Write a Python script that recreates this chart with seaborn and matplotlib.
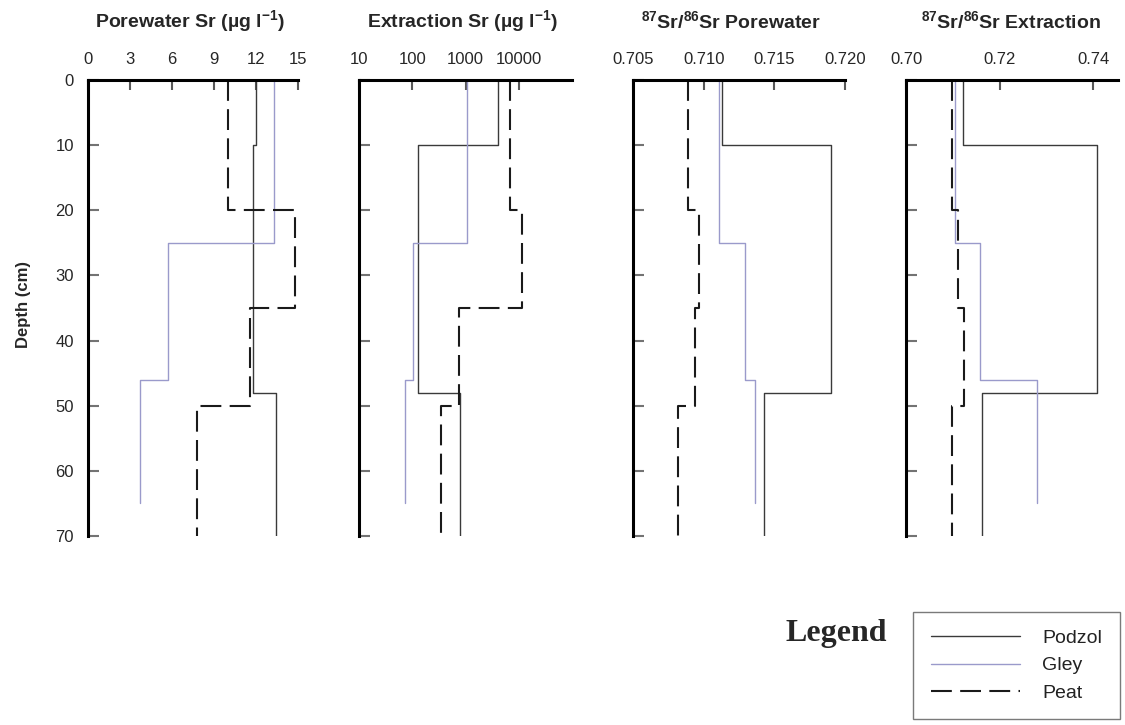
import matplotlib
matplotlib.use("Agg")
import matplotlib.pyplot as plt
from matplotlib.lines import Line2D
import seaborn as sns
import pandas as pd

# ---------------- data ----------------
soils = ["Podzol", "Gley", "Peat"]
podzol_depths = [0, 10, 48, 70]
gley_depths = [0, 25, 46, 65]
peat_depths = [0, 20, 35, 50, 70]

# Porewater Sr (ug/l)
pw_sr_podzol = [12.0, 11.8, 13.4]
pw_sr_gley = [13.3, 5.7, 3.7]
pw_sr_peat = [10.0, 14.8, 11.6, 7.8]

# Extraction Sr (ug/l)
ex_sr_podzol = [4070, 128, 790]
ex_sr_gley = [1070, 103, 73]
ex_sr_peat = [6760, 11500, 760, 347]

# 87Sr/86Sr porewater
pw_ratio_podzol = [0.7113, 0.7190, 0.7143]
pw_ratio_gley = [0.7111, 0.7129, 0.7136]
pw_ratio_peat = [0.7089, 0.7097, 0.7094, 0.7082]

# 87Sr/86Sr extraction
ex_ratio_podzol = [0.7122, 0.7408, 0.7163]
ex_ratio_gley = [0.7105, 0.7158, 0.7280]
ex_ratio_peat = [0.7098, 0.7111, 0.7124, 0.7098]

titles = [r"Porewater Sr (µg l$^{-1}$)",
          r"Extraction Sr (µg l$^{-1}$)",
          r"$^{87}$Sr/$^{86}$Sr Porewater",
          r"$^{87}$Sr/$^{86}$Sr Extraction"]
xticks_list = [[0, 3, 6, 9, 12, 15],
               [10, 100, 1000, 10000],
               [0.705, 0.710, 0.715, 0.720],
               [0.70, 0.72, 0.74]]
xticklabels_list = [["0", "3", "6", "9", "12", "15"],
                    ["10", "100", "1000", "10000"],
                    ["0.705", "0.710", "0.715", "0.720"],
                    ["0.70", "0.72", "0.74"]]
xlims = [(0, 15), (10, 100000), (0.705, 0.720), (0.70, 0.7453)]
yticks = [0, 10, 20, 30, 40, 50, 60, 70]

panels = [
    (pw_sr_podzol, pw_sr_gley, pw_sr_peat),
    (ex_sr_podzol, ex_sr_gley, ex_sr_peat),
    (pw_ratio_podzol, pw_ratio_gley, pw_ratio_peat),
    (ex_ratio_podzol, ex_ratio_gley, ex_ratio_peat),
]
depth_sets = [podzol_depths, gley_depths, peat_depths]


def step_frame(values_by_soil):
    rows = []
    for soil, depths, vals in zip(soils, depth_sets, values_by_soil):
        for i, v in enumerate(vals):
            rows.append({"soil": soil, "value": v, "depth": depths[i]})
            rows.append({"soil": soil, "value": v, "depth": depths[i + 1]})
    return pd.DataFrame(rows)


# ---------------- style ----------------
sns.set_theme(style="white")
plt.rcParams["font.family"] = ["Liberation Sans", "DejaVu Sans"]
plt.rcParams["mathtext.fontset"] = "custom"
plt.rcParams["mathtext.rm"] = "Liberation Sans:bold"
plt.rcParams["mathtext.bf"] = "Liberation Sans:bold"
plt.rcParams["mathtext.default"] = "bf"

palette = {"Podzol": "#3a3a3a", "Gley": "#9a9acb", "Peat": "#1a1a1a"}
dashes = {"Podzol": "", "Gley": "", "Peat": (10, 4)}
widths = {"Podzol": 1.0, "Gley": 1.0, "Peat": 1.5}

W, H = 1125, 725
fig = plt.figure(figsize=(W / 100, H / 100), dpi=100)

ax_left_px = [88, 359, 633, 906]
ax_width_px = [210, 213, 212, 212]
top_px, bot_px = 80, 536
title_x_px = [190, 463, 731, 1011]

for k in range(4):
    ax = fig.add_axes([ax_left_px[k] / W, 1 - bot_px / H,
                       ax_width_px[k] / W, (bot_px - top_px) / H])
    df = step_frame(panels[k])
    for soil in soils:
        sub = df[df["soil"] == soil]
        sns.lineplot(data=sub, x="value", y="depth", sort=False, estimator=None,
                     color=palette[soil], lw=widths[soil], ax=ax, legend=False,
                     dashes=False)
        if dashes[soil]:
            ax.lines[-1].set_dashes(dashes[soil])
    if k == 1:
        ax.set_xscale("log")
    ax.set_xlim(*xlims[k])
    ax.set_ylim(70, 0)
    ax.set_xticks(xticks_list[k])
    ax.set_xticklabels(xticklabels_list[k])
    if k == 1:
        ax.minorticks_off()
    ax.set_yticks(yticks)
    if k == 0:
        ax.set_yticklabels([str(t) for t in yticks])
    else:
        ax.set_yticklabels([])
    ax.xaxis.tick_top()
    ax.tick_params(axis="x", which="major", direction="in", length=7, width=1.5,
                   color="0.35", labelsize=12, pad=9, top=True, bottom=False,
                   labeltop=True, labelbottom=False)
    ax.tick_params(axis="y", which="major", direction="in", length=8, width=1.5,
                   color="0.45", labelsize=12, pad=10, left=True, right=False)
    for s in ["right", "bottom"]:
        ax.spines[s].set_visible(False)
    for s in ["left", "top"]:
        ax.spines[s].set_linewidth(2.2)
        ax.spines[s].set_color("black")
    ax.set_xlabel("")
    ax.set_ylabel("")
    fig.text(title_x_px[k] / W, 1 - 21 / H, titles[k], ha="center", va="center",
             fontsize=14, fontweight="bold")

fig.text(24 / W, 1 - 305 / H, "Depth (cm)", rotation=90, ha="center",
         va="center", fontsize=12, fontweight="bold")

fig.text(785 / W, 1 - 634 / H, "Legend", family=["Liberation Serif", "DejaVu Serif"],
         fontweight="bold", fontsize=23, ha="left", va="center")

handles = [Line2D([], [], color=palette[s], lw=widths[s]) for s in soils]
handles[2].set_dashes(dashes["Peat"])
leg = fig.legend(handles, soils, loc="upper left",
                 bbox_to_anchor=(913 / W, 1 - 612 / H), frameon=True,
                 fancybox=False, edgecolor="0.35", fontsize=14,
                 handlelength=4.6, handletextpad=1.15, labelspacing=0.5,
                 borderpad=0.9, borderaxespad=0)
leg.get_frame().set_linewidth(1.0)
for t in leg.get_texts():
    t.set_color("#222222")

fig.savefig("out.png", dpi=100)
